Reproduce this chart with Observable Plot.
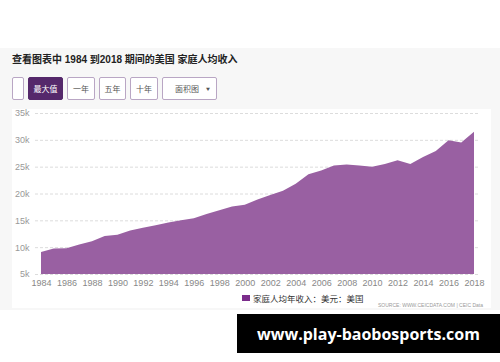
<!DOCTYPE html>
<html>
<head>
<meta charset="utf-8">
<script src="https://cdn.jsdelivr.net/npm/d3@7"></script>
<script src="https://cdn.jsdelivr.net/npm/@observablehq/plot@0.6"></script>
<style>
  html, body { margin: 0; padding: 0; width: 500px; height: 362px; overflow: hidden; background: #fff; font-family: "Liberation Sans", Arial, "Noto Sans CJK SC", sans-serif; }
  #bg { position: absolute; left: 0; top: 48px; width: 500px; height: 262px; background: #f7f7f7; }
  #panel { position: absolute; left: 12px; top: 109px; width: 479px; height: 199px; background: #fff; }
  #title { position: absolute; left: 12px; top: 51px; font-size: 10px; font-weight: bold; color: #222; white-space: nowrap; font-family: "Liberation Sans", Arial, "Noto Sans CJK SC", sans-serif; }
  .btn { position: absolute; top: 77px; height: 23px; box-sizing: border-box; border: 1px solid #b9a6c4; background: #fff; font-size: 8px; color: #555; display: flex; align-items: center; justify-content: center; border-radius: 2px; font-family: "Noto Sans CJK SC", sans-serif; }
  .btn.sel { background: #55286b; color: #fff; border-color: #55286b; }
  #chart { position: absolute; left: 0; top: 100px; }
  #legend { position: absolute; left: 242px; top: 292px; font-size: 8.5px; color: #333; display: flex; align-items: center; white-space: nowrap; font-family: "Noto Sans CJK SC", sans-serif; }
  #legend .sw { width: 8px; height: 6px; background: #7b2d8b; margin-right: 3px; }
  #source { position: absolute; left: 378px; top: 302px; font-size: 5px; color: #999; white-space: nowrap; }
  #brand { position: absolute; left: 237px; top: 314px; width: 263px; height: 39px; background: #000; color: #fff; font-weight: bold; font-size: 16px; display: flex; align-items: center; justify-content: center; white-space: nowrap; font-family: "Open Sans", "DejaVu Sans", sans-serif; }
</style>
</head>
<body>
<div id="bg"></div>
<div id="panel"></div>
<div id="title">查看图表中 1984 到2018 期间的美国 家庭人均收入</div>
<div class="btn" style="left:12px;width:12px;"></div>
<div class="btn sel" style="left:28px;width:35px;">最大值</div>
<div class="btn" style="left:67px;width:28px;">一年</div>
<div class="btn" style="left:99px;width:27px;">五年</div>
<div class="btn" style="left:130px;width:28px;">十年</div>
<div class="btn" style="left:162px;width:55px;justify-content:space-between;padding:0 6px 0 12px;"><span>面积图</span><span style="font-size:4px;">▼</span></div>
<div id="chart"></div>
<div id="legend"><span class="sw"></span><span>家庭人均年收入：美元：美国</span></div>
<div id="source">SOURCE: WWW.CEICDATA.COM | CEIC Data</div>
<div id="brand">www.play-baobosports.com</div>
<script>
const years = [1984,1985,1986,1987,1988,1989,1990,1991,1992,1993,1994,1995,1996,1997,1998,1999,2000,2001,2002,2003,2004,2005,2006,2007,2008,2009,2010,2011,2012,2013,2014,2015,2016,2017,2018];
const income = [9.1,9.75,9.8,10.5,11.1,12.1,12.3,13.1,13.6,14.1,14.6,15.0,15.4,16.2,16.9,17.6,17.9,18.9,19.7,20.5,21.8,23.6,24.3,25.2,25.4,25.2,25.0,25.5,26.2,25.5,26.8,27.9,29.9,29.5,31.5];
const yTicks = [5,10,15,20,25,30,35];
const xTicks = [1984,1986,1988,1990,1992,1994,1996,1998,2000,2002,2004,2006,2008,2010,2012,2014,2016,2018];

const data = years.map((y, i) => ({year: y, value: income[i]}));

const chart = Plot.plot({
  width: 500,
  height: 200,
  marginLeft: 35,
  marginRight: 21,
  marginTop: 13,
  marginBottom: 26,
  style: {background: "transparent", fontFamily: "Liberation Sans, Arial, sans-serif", fontSize: "9px", color: "#888"},
  x: {domain: [1984, 2018], insetLeft: 6, insetRight: 5, label: null},
  y: {domain: [5, 35], label: null},
  marks: [
    Plot.gridY(yTicks, {stroke: "#dcdcdc", strokeOpacity: 1, strokeDasharray: "3,2"}),
    Plot.areaY(data, {x: "year", y1: 5, y2: "value", fill: "#9960a2"}),
    Plot.axisX({ticks: xTicks, tickFormat: d => String(d), tickSize: 0, tickPadding: 5, fill: "#888"}),
    Plot.axisY({ticks: yTicks, tickFormat: d => d + "k", tickSize: 0, tickPadding: 6, fill: "#999"})
  ]
});
document.getElementById("chart").appendChild(chart);
</script>
</body>
</html>
